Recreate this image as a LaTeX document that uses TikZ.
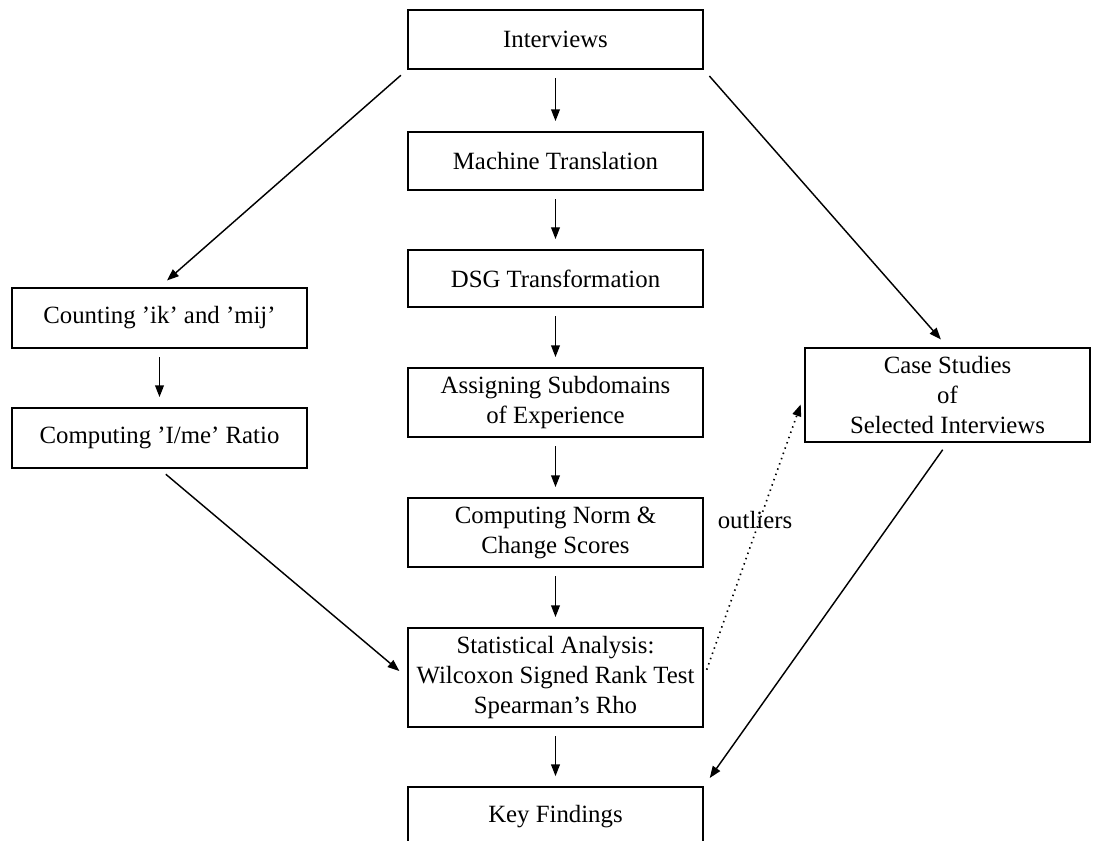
\documentclass[tikz,border=0pt]{standalone}
\usepackage{fontspec}
\setmainfont{Liberation Serif}
\usetikzlibrary{positioning, arrows.meta}

\begin{document}
\begin{tikzpicture}[x=0.017cm,y=-0.017cm,
    box/.style={draw,black,line width=.9pt,align=center,minimum width=5.015cm,minimum height=1cm,inner sep=2pt,font=\fontsize{12}{14.5}\selectfont},
    flow/.style={-{Triangle[length=.2cm,width=.15cm]},black,line width=.7pt,shorten <=.14cm,shorten >=.17cm}]
    \useasboundingbox (0,0) rectangle (1093,841);

    % middle column
    \node[box] (interviews) at (555.5,39.5) {Interviews};
    \node[box,minimum height=.986cm] (mt) at (555.5,161) {Machine Translation};
    \node[box,minimum height=.97cm] (dsg) at (555.5,278.5) {DSG Transformation};
    \node[box,minimum height=1.173cm] (assign) at (555.5,402.5) {Assigning Subdomains\\of Experience};
    \node[box,minimum height=1.173cm] (norm) at (555.5,532.5) {Computing Norm \&\\Change Scores};
    \node[box,minimum height=1.683cm] (stats) at (555.5,677.5) {Statistical Analysis:\\Wilcoxon Signed Rank Test\\Spearman’s Rho};
    \node[box] (key) at (555.5,816.5) {Key Findings};

    % left column
    \node[box,minimum height=1.02cm] (count) at (159.5,318) {Counting ’ik’ and ’mij’};
    \node[box,minimum height=1.02cm] (ratio) at (159.5,438) {Computing ’I/me’ Ratio};

    % right column
    \node[box,minimum width=4.845cm,minimum height=1.6cm] (cases) at (947.5,395) {Case Studies\\of\\Selected Interviews};
    \node[font=\fontsize{12}{14.5}\selectfont] (outl) at (755,520) {outliers};

    \draw[flow] (interviews) -- (mt);
    \draw[flow] (mt) -- (dsg);
    \draw[flow] (dsg) -- (assign);
    \draw[flow] (assign) -- (norm);
    \draw[flow] (norm) -- (stats);
    \draw[flow] (stats) -- (key);

    \draw[flow] (interviews.south west) -- (count.north);
    \draw[flow] (count) -- (ratio);
    \draw[flow] (ratio.south) -- (stats.west);

    \draw[flow] (interviews.south east) -- (cases.north);
    \draw[flow] (cases.south) -- (key.north east);
    \draw[flow,dotted,line width=.8pt] (stats.east) -- (cases.west); %outliers
\end{tikzpicture}
\end{document}
